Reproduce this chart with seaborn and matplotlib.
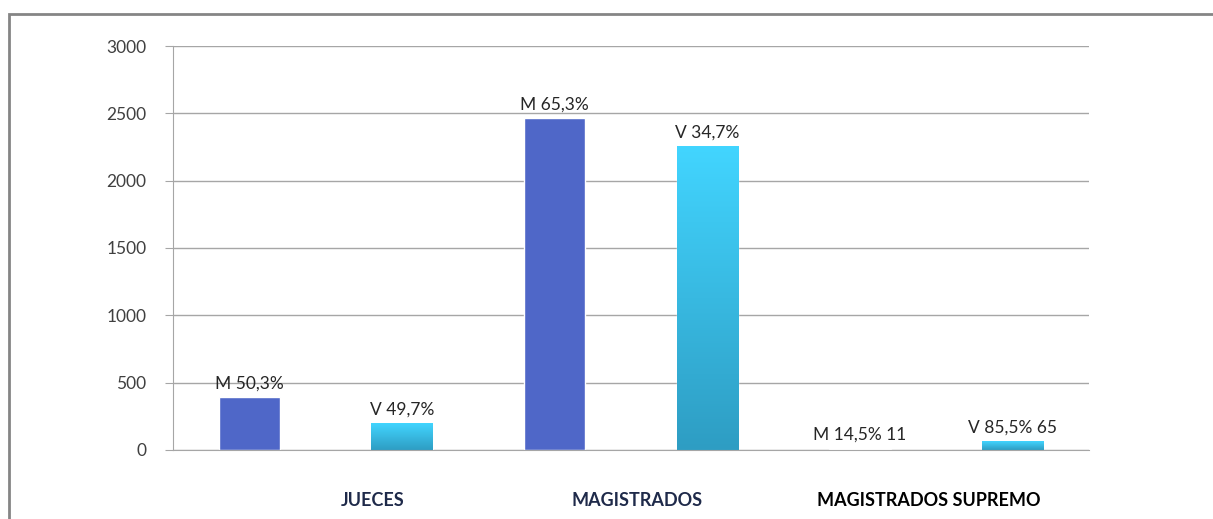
import numpy as np
import pandas as pd
import matplotlib
matplotlib.use("Agg")
import matplotlib.pyplot as plt
import matplotlib.transforms as mtransforms
from matplotlib.patches import Rectangle
from matplotlib.colors import LinearSegmentedColormap
import seaborn as sns

# Datos
cargos = ["JUECES", "MAGISTRADOS", "MAGISTRADOS SUPREMO"]
sexos = ["M", "V"]
mujeres = [390, 2465, 11]
varones = [200, 2255, 65]
etiquetas_m = ["M 50,3%", "M 65,3%", "M 14,5% 11"]
etiquetas_v = ["V 49,7%", "V 34,7%", "V 85,5% 65"]
yticks = [0, 500, 1000, 1500, 2000, 2500, 3000]

COLORS = {
    "m": "#4F67C8",
    "v_top": "#42D5FF",
    "v_bottom": "#2E9DC3",
    "grid": "#A6A6A6",
    "text": "#404040",
    "navy": "#1F2A4A",
}

df = pd.DataFrame({
    "cargo": cargos * 2,
    "sexo": ["M"] * len(cargos) + ["V"] * len(cargos),
    "total": mujeres + varones,
})

sns.set_style("white")
plt.rcParams["font.family"] = ["Lato", "DejaVu Sans"]

fig = plt.figure(figsize=(12.13, 5.19), dpi=100)
ax = fig.add_axes([173 / 1213, 1 - 450 / 519, (1089 - 173) / 1213, (450 - 46) / 519])

sns.barplot(data=df, x="cargo", y="total", hue="sexo", hue_order=sexos,
            palette={"M": COLORS["m"], "V": COLORS["v_top"]}, saturation=1,
            width=1.0, gap=0.6, legend=False, ax=ax, errorbar=None)

# degradado en las barras de varones
cmap = LinearSegmentedColormap.from_list("v", [COLORS["v_bottom"], COLORS["v_top"]])
grad = np.linspace(0, 1, 256).reshape(-1, 1)
for bar in ax.containers[1]:
    x0 = bar.get_x()
    x1 = x0 + bar.get_width()
    h = bar.get_height()
    im = ax.imshow(grad, cmap=cmap, aspect="auto", origin="lower",
                   extent=(x0, x1, 0, h), zorder=bar.get_zorder())
    im.set_clip_path(bar)
    bar.set_facecolor("none")

ax.bar_label(ax.containers[0], labels=etiquetas_m, padding=4, fontsize=12.5, color="#262626")
ax.bar_label(ax.containers[1], labels=etiquetas_v, padding=4, fontsize=12.5, color="#262626")

ax.set_xlim(-0.5, 2.5)
ax.set_ylim(0, 3000)
ax.set_yticks(yticks)
ax.set_yticklabels([str(t) for t in yticks], fontsize=12.5, color=COLORS["text"])
ax.yaxis.grid(True, color=COLORS["grid"], linewidth=1)
ax.set_axisbelow(True)
ax.set_xlabel("")
ax.set_ylabel("")

for s in ["top", "right"]:
    ax.spines[s].set_visible(False)
ax.spines["left"].set_color(COLORS["grid"])
ax.spines["bottom"].set_color(COLORS["grid"])
ax.tick_params(axis="y", left=True, length=6, color=COLORS["grid"], pad=13)
ax.tick_params(axis="x", bottom=False, pad=27)

# etiquetas de categoría
ax.set_xticks(range(len(cargos)))
ax.set_xticklabels(cargos, fontsize=13, fontweight="bold")
shifts = [47, 6, -8]
label_colors = [COLORS["navy"], COLORS["navy"], "black"]
for lbl, dx, c in zip(ax.get_xticklabels(), shifts, label_colors):
    lbl.set_color(c)
    lbl.set_transform(lbl.get_transform() + mtransforms.ScaledTranslation(dx / 100, 0, fig.dpi_scale_trans))

# marco de la figura
fig.patches.append(Rectangle((9 / 1213, -0.1), 1.2, 1 - 14 / 519 + 0.1, transform=fig.transFigure,
                             fill=False, edgecolor="#858585", linewidth=2))

fig.savefig("out.png", dpi=100)
